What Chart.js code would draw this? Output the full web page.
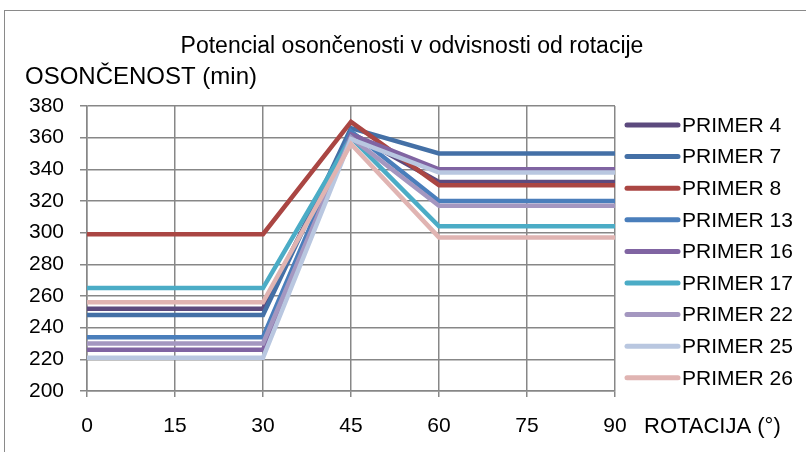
<!DOCTYPE html>
<html>
<head>
<meta charset="utf-8">
<title>Potencial osončenosti v odvisnosti od rotacije</title>
<script src="https://cdn.jsdelivr.net/npm/chart.js@4/dist/chart.umd.min.js"></script>
<style>
  html, body { margin: 0; padding: 0; background: #fff; }
  #wrap { position: relative; width: 811px; height: 452px; overflow: hidden; }
  #frame { position: absolute; left: 4px; top: 10px; width: 802px; height: 460px;
           border-top: 1.5px solid #8a8a8a; border-left: 1.5px solid #8a8a8a; box-sizing: border-box; }
  canvas { position: absolute; left: 0; top: 0; }
</style>
</head>
<body>
<div id="wrap">
  <div id="frame"></div>
  <canvas id="c" width="811" height="452"></canvas>
</div>
<script>
// Rotation angles (degrees) on the horizontal axis
const rotations = ['0', '15', '30', '45', '60', '75', '90'];

// Sun exposure (minutes) per example building, by rotation
const primer4  = [252, 252, 252, 363, 332, 332, 332];
const primer7  = [248, 248, 248, 366, 350, 350, 350];
const primer8  = [299, 299, 299, 370, 330, 330, 330];
const primer13 = [234, 234, 234, 364, 320, 320, 320];
const primer16 = [226, 226, 226, 362, 340, 340, 340];
const primer17 = [265, 265, 265, 360, 304, 304, 304];
const primer22 = [230, 230, 230, 360, 317, 317, 317];
const primer25 = [221, 221, 221, 359, 338, 338, 338];
const primer26 = [256, 256, 256, 356, 297, 297, 297];

const seriesNames  = ['PRIMER 4', 'PRIMER 7', 'PRIMER 8', 'PRIMER 13', 'PRIMER 16',
                      'PRIMER 17', 'PRIMER 22', 'PRIMER 25', 'PRIMER 26'];
const seriesValues = [primer4, primer7, primer8, primer13, primer16,
                      primer17, primer22, primer25, primer26];
const seriesColors = ['#5c4a7e', '#4470a6', '#aa4643', '#4a7ebb', '#8064a2',
                      '#4bacc6', '#a497c0', '#b9c7e0', '#e0b4b2'];

const yTicks = { min: 200, max: 380, step: 20 };

const FONT = "'Liberation Sans', Arial, sans-serif";
const AXIS_GREY = '#878787';

const datasets = seriesNames.map((name, i) => ({
  label: name,
  data: seriesValues[i],
  borderColor: seriesColors[i],
  backgroundColor: seriesColors[i],
  borderWidth: 4.5,
  pointRadius: 0,
  pointHoverRadius: 0,
  tension: 0,
  fill: false,
  // later series are painted over earlier ones
  order: seriesNames.length - 1 - i
}));

// Titles and the right-hand legend, drawn onto the chart canvas
const decorations = {
  id: 'decorations',
  afterDraw(chart) {
    const ctx = chart.ctx;
    ctx.save();
    ctx.fillStyle = '#000';
    ctx.textBaseline = 'middle';

    ctx.font = '23px ' + FONT;
    ctx.textAlign = 'center';
    ctx.fillText('Potencial osončenosti v odvisnosti od rotacije', 412, 47);

    ctx.textAlign = 'left';
    ctx.font = '24px ' + FONT;
    ctx.fillText('OSONČENOST (min)', 25, 77);
    ctx.font = '22px ' + FONT;
    ctx.fillText('ROTACIJA (°)', 644, 427);

    // legend
    ctx.font = '21px ' + FONT;
    const x0 = 627, x1 = 678, top = 125, gap = 31.6;
    seriesNames.forEach((name, i) => {
      const y = top + i * gap;
      ctx.strokeStyle = seriesColors[i];
      ctx.lineWidth = 5;
      ctx.lineCap = 'round';
      ctx.beginPath();
      ctx.moveTo(x0, y);
      ctx.lineTo(x1, y);
      ctx.stroke();
      ctx.fillStyle = '#000';
      ctx.fillText(name, 682, y + 1);
    });
    ctx.restore();
  }
};

new Chart(document.getElementById('c'), {
  type: 'line',
  data: { labels: rotations, datasets },
  plugins: [decorations],
  options: {
    responsive: false,
    animation: false,
    devicePixelRatio: 1,
    layout: { padding: { left: 0, top: 106, right: 196, bottom: 0 } },
    plugins: {
      legend: { display: false },
      title: { display: false },
      tooltip: { enabled: false }
    },
    elements: { line: { borderJoinStyle: 'miter', borderCapStyle: 'butt' } },
    scales: {
      x: {
        type: 'category',
        offset: false,
        afterFit(scale) { scale.height = 61; },
        grid: { color: AXIS_GREY, lineWidth: 1.5, tickLength: 6, drawTicks: true },
        border: { color: AXIS_GREY, width: 1.5 },
        ticks: { color: '#000', font: { family: FONT, size: 21 }, padding: 17, maxRotation: 0 }
      },
      y: {
        min: yTicks.min,
        max: yTicks.max,
        afterFit(scale) { scale.width = 87; },
        grid: { color: AXIS_GREY, lineWidth: 1.5, tickLength: 7 },
        border: { color: AXIS_GREY, width: 1.5 },
        ticks: { stepSize: yTicks.step, color: '#000', font: { family: FONT, size: 21 }, padding: 16 }
      }
    }
  }
});
</script>
</body>
</html>
